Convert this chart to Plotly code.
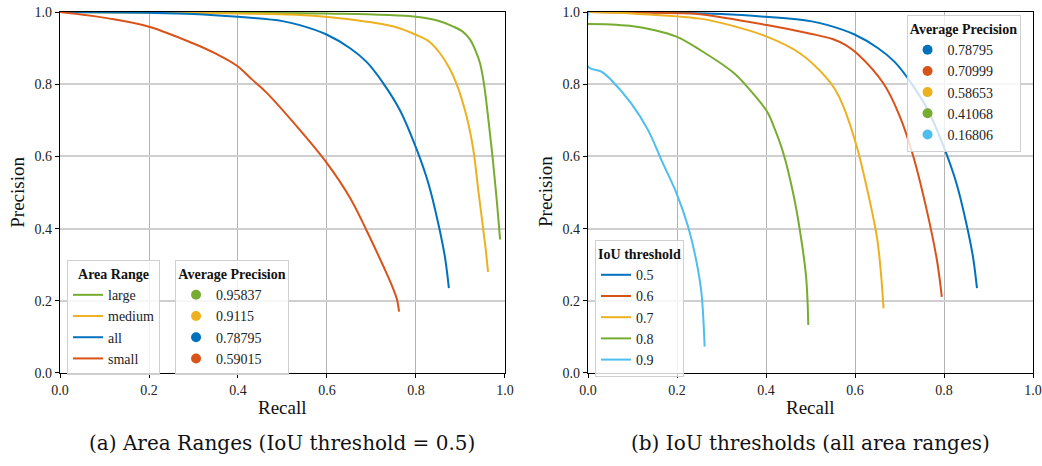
import plotly.graph_objects as go

# ---- data ----
area_names = ["large", "medium", "all", "small"]
area_ap = ["0.95837", "0.9115", "0.78795", "0.59015"]
area_colors = ["#77AC30", "#EDB120", "#0072BD", "#D95319"]

large_r = [0, 0.2, 0.4, 0.6, 0.8, 0.85, 0.884, 0.905, 0.921, 0.935, 0.944, 0.953, 0.963, 0.972, 0.98, 0.987, 0.989]
large_p = [1.0, 0.999, 0.998, 0.996, 0.987, 0.976, 0.96, 0.946, 0.925, 0.89, 0.858, 0.80, 0.70, 0.60, 0.50, 0.40, 0.37]

medium_r = [0, 0.2, 0.4, 0.539, 0.65, 0.75, 0.802, 0.83, 0.854, 0.875, 0.891, 0.914, 0.929, 0.94, 0.95, 0.957, 0.962]
medium_p = [1.0, 0.999, 0.996, 0.992, 0.98, 0.96, 0.936, 0.918, 0.886, 0.845, 0.802, 0.71, 0.618, 0.507, 0.41, 0.34, 0.28]

all_r = [0, 0.2, 0.3, 0.4, 0.5, 0.539, 0.599, 0.652, 0.689, 0.727, 0.764, 0.802, 0.828, 0.85, 0.865, 0.874]
all_p = [1.0, 0.998, 0.995, 0.987, 0.975, 0.964, 0.938, 0.90, 0.862, 0.802, 0.728, 0.618, 0.525, 0.415, 0.322, 0.235]

small_r = [0, 0.112, 0.202, 0.3, 0.35, 0.397, 0.43, 0.464, 0.524, 0.599, 0.652, 0.689, 0.727, 0.745, 0.757, 0.762]
small_p = [1.0, 0.982, 0.959, 0.913, 0.885, 0.852, 0.815, 0.777, 0.695, 0.583, 0.485, 0.395, 0.295, 0.245, 0.205, 0.17]

iou_names = ["0.5", "0.6", "0.7", "0.8", "0.9"]
iou_ap = ["0.78795", "0.70999", "0.58653", "0.41068", "0.16806"]
iou_colors = ["#0072BD", "#D95319", "#EDB120", "#77AC30", "#4DBEEE"]

t06_r = [0, 0.1, 0.2, 0.252, 0.402, 0.5, 0.551, 0.58, 0.604, 0.664, 0.701, 0.731, 0.761, 0.784, 0.795]
t06_p = [1.0, 0.999, 0.997, 0.994, 0.964, 0.94, 0.925, 0.908, 0.886, 0.802, 0.71, 0.60, 0.452, 0.313, 0.211]

t07_r = [0, 0.1, 0.252, 0.319, 0.402, 0.476, 0.536, 0.555, 0.574, 0.604, 0.626, 0.649, 0.658, 0.664]
t07_p = [1.0, 0.996, 0.982, 0.964, 0.932, 0.886, 0.818, 0.786, 0.738, 0.627, 0.516, 0.378, 0.28, 0.179]

t08_r = [0, 0.05, 0.094, 0.15, 0.199, 0.252, 0.327, 0.36, 0.402, 0.42, 0.439, 0.461, 0.476, 0.49, 0.495]
t08_p = [0.967, 0.966, 0.962, 0.95, 0.932, 0.895, 0.832, 0.79, 0.725, 0.675, 0.609, 0.498, 0.396, 0.267, 0.133]

t09_r = [0, 0, 0.03, 0.052, 0.097, 0.135, 0.165, 0.199, 0.225, 0.243, 0.255, 0.262]
t09_p = [1.0, 0.849, 0.835, 0.812, 0.747, 0.673, 0.59, 0.498, 0.405, 0.313, 0.221, 0.073]

ticks = [0.0, 0.2, 0.4, 0.6, 0.8, 1.0]

FONT = "Liberation Serif"
CAPTION_FONT = "DejaVu Serif"

fig = go.Figure()

# left panel: area ranges
area_curves = [(large_r, large_p), (medium_r, medium_p), (all_r, all_p), (small_r, small_p)]
for name, col, (r, p) in zip(area_names, area_colors, area_curves):
    fig.add_trace(go.Scatter(x=r, y=p, mode="lines", name=name,
                             line=dict(color=col, width=2, shape="spline", smoothing=1.0),
                             xaxis="x", yaxis="y", legend="legend"))
for ap, col in zip(area_ap, area_colors):
    fig.add_trace(go.Scatter(x=[None], y=[None], mode="markers", name=ap,
                             marker=dict(color=col, size=10),
                             xaxis="x", yaxis="y", legend="legend2"))

# right panel: IoU thresholds
iou_curves = [(all_r, all_p), (t06_r, t06_p), (t07_r, t07_p), (t08_r, t08_p), (t09_r, t09_p)]
for name, col, (r, p) in zip(iou_names, iou_colors, iou_curves):
    fig.add_trace(go.Scatter(x=r, y=p, mode="lines", name=name,
                             line=dict(color=col, width=2, shape="spline", smoothing=1.0),
                             xaxis="x2", yaxis="y2", legend="legend3"))
for ap, col in zip(iou_ap, iou_colors):
    fig.add_trace(go.Scatter(x=[None], y=[None], mode="markers", name=ap,
                             marker=dict(color=col, size=10),
                             xaxis="x2", yaxis="y2", legend="legend4"))

axis_common = dict(range=[0, 1], tickvals=ticks, ticktext=["%.1f" % t for t in ticks],
                   showline=True, linecolor="black", linewidth=1.2, mirror=True,
                   ticks="outside", ticklen=4, tickcolor="black",
                   tickfont=dict(family=FONT, size=14, color="#222"),
                   zeroline=False, automargin=False)

xgrid = dict(showgrid=True, gridcolor="#b4b4b4", gridwidth=1)
ygrid = dict(showgrid=True, gridcolor="#cfcfcf", gridwidth=1.5)

legend_common = dict(bgcolor="rgba(255,255,255,0.8)", bordercolor="#d0d0d0", borderwidth=1,
                     font=dict(family=FONT, size=14, color="#222"),
                     xanchor="left", yanchor="top", tracegroupgap=0, itemwidth=30)

def legend(x, y, title):
    d = dict(legend_common)
    d.update(x=x, y=y, title=dict(text="<b>%s</b>" % title, side="top center",
                                   font=dict(family=FONT, size=14, color="#111")))
    return d

ydom = [0.1996, 0.974]

fig.update_layout(
    width=1042, height=466,
    margin=dict(l=0, r=0, t=0, b=0),
    paper_bgcolor="white", plot_bgcolor="white",
    font=dict(family=FONT, color="#222"),
    xaxis=dict(domain=[0.0576, 0.4846], anchor="y", **axis_common, **xgrid),
    yaxis=dict(domain=ydom, anchor="x", **axis_common, **ygrid),
    xaxis2=dict(domain=[0.5643, 0.9914], anchor="y2", **axis_common, **xgrid),
    yaxis2=dict(domain=ydom, anchor="x2", **axis_common, **ygrid),
    legend=legend(0.0643, 0.442, "Area Range"),
    legend2=legend(0.168, 0.442, "Average Precision"),
    legend3=legend(0.571, 0.485, "IoU threshold"),
    legend4=legend(0.870, 0.968, "Average Precision"),
    showlegend=True,
)

annots = [
    dict(text="Recall", x=0.271, y=0.1245, size=19, angle=0, font=FONT),
    dict(text="Recall", x=0.778, y=0.1245, size=19, angle=0, font=FONT),
    dict(text="Precision", x=0.017, y=0.588, size=19, angle=-90, font=FONT),
    dict(text="Precision", x=0.524, y=0.588, size=19, angle=-90, font=FONT),
    dict(text="(a) Area Ranges (IoU threshold = 0.5)", x=0.271, y=0.049, size=20, angle=0, font=CAPTION_FONT),
    dict(text="(b) IoU thresholds (all area ranges)", x=0.778, y=0.049, size=20, angle=0, font=CAPTION_FONT),
]
for a in annots:
    fig.add_annotation(text=a["text"], x=a["x"], y=a["y"], xref="paper", yref="paper",
                       xanchor="center", yanchor="middle", showarrow=False, textangle=a["angle"],
                       font=dict(family=a["font"], size=a["size"], color="#111"))

fig.write_html("out.html", config={"displayModeBar": False},
               post_script="document.body.style.margin='0';")
